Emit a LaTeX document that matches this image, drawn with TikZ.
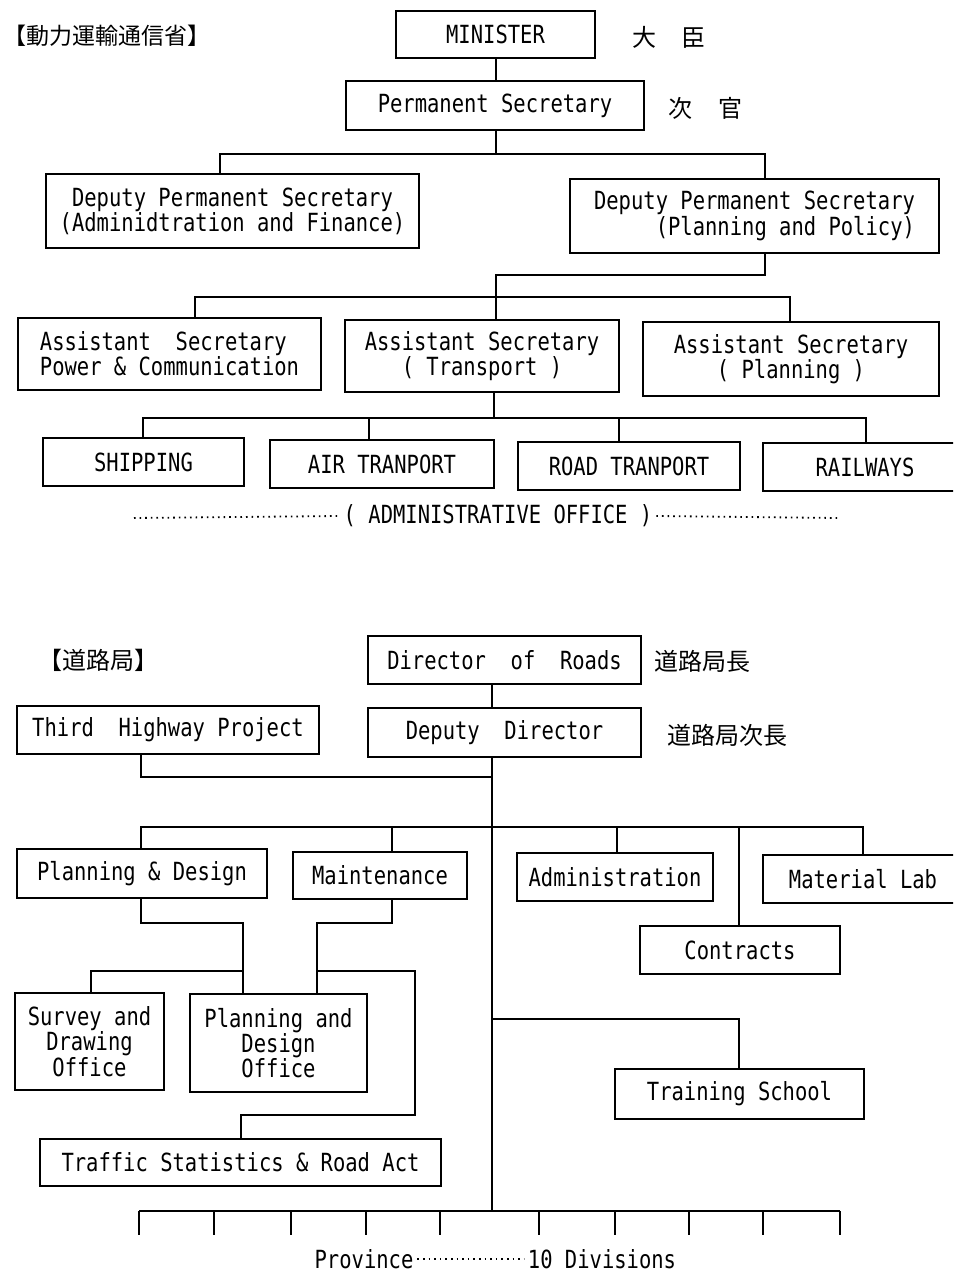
\documentclass[tikz,border=0pt]{standalone}
\usepackage{fontspec}
\newfontfamily\boxfont[FakeStretch=0.82]{DejaVu Sans Mono}
\newfontfamily\jpfont{Noto Sans CJK JP}
\usepackage{tikz}
\usetikzlibrary{positioning}

\begin{document}
\begin{tikzpicture}[x=1pt, y=-1pt, line width=1.5pt,
	box/.style 2 args={draw, minimum width=#1pt, minimum height=#2pt, inner sep=0pt,
		align=center, font=\boxfont\fontsize{25}{24}\selectfont},
	lbl/.style={font=\boxfont\fontsize{25}{24}\selectfont},
	jp/.style={anchor=west, inner sep=0pt, font=\jpfont\fontsize{24}{28}\selectfont},
	leader/.style={line width=1.8pt, dash pattern=on 1.6pt off 4pt}]

		\useasboundingbox (0,0) rectangle (953,1273);
		\clip (0,0) rectangle (953,1273);

		% Ministry chart
		\node[jp, font=\jpfont\fontsize{23}{26}\selectfont] (title1) at (3,36) {【動力運輸通信省】};

		\node[box={199}{47}] (minister) at (495.5,34.5) {MINISTER};
		\node[jp] (daijin) at (632,37) {大\hspace{25pt}臣};
		\node[box={298}{49}] (ps) at (495,105.5) {Permanent Secretary};
		\node[jp] (jikan) at (668,108) {次\hspace{26pt}官};

		\node[box={373}{74}] (dpsA) at (232.5,211) {Deputy Permanent Secretary\\(Adminidtration and Finance)};
		\node[box={369}{74}, align=right] (dpsB) at (754.5,216) {Deputy Permanent Secretary\\(Planning and Policy)};

		\node[box={303}{72}, align=left] (asA) at (169.5,354) {Assistant~~Secretary\\Power \& Communication};
		\node[box={274}{72}] (asB) at (482,356) {Assistant Secretary\\( Transport )};
		\node[box={296}{74}] (asC) at (791,359) {Assistant Secretary\\( Planning )};

		\node[box={201}{48}] (ship) at (143.5,462) {SHIPPING};
		\node[box={224}{48}] (air) at (382,464) {AIR TRANPORT};
		\node[box={222}{48}] (road) at (629,466) {ROAD TRANPORT};
		\node[box={204}{48}] (rail) at (865,467) {RAILWAYS};

		\node[lbl] (admoff) at (498,516) {( ADMINISTRATIVE OFFICE )};
		\coordinate (dotL) at (134,518);
		\coordinate (dotR) at (839,518);
		\draw[leader] (dotL) -- (admoff.west);
		\draw[leader] (admoff.east) -- (dotR);

		% Ministry connectors
		\coordinate (t1) at (496,154);
		\coordinate (t2) at (496,275);
		\coordinate (t3) at (496,297);
		\coordinate (t4) at (494,418);

		\draw (minister.south -| t1) -- (ps.north -| t1);
		\draw (ps.south -| t1) -- (t1);
		\draw (dpsA.north -| 220,0) |- (t1) -| (dpsB.north -| 765,0);
		\draw (dpsB.south -| 765,0) |- (t2) -- (asB.north -| t2);
		\draw (asA.north -| 195,0) |- (t3) -| (asC.north -| 790,0);
		\draw (asB.south -| t4) -- (t4);
		\draw (ship.north -| 143,0) |- (t4) -| (rail.north -| 866,0);
		\draw (air.north -| 369,0) -- (t4 -| 369,0);
		\draw (road.north -| 619,0) -- (t4 -| 619,0);

		% Roads department chart
		\node[jp] (title2) at (38,660) {【道路局】};

		\node[box={273}{48}] (dir) at (504.5,660) {Director~~of~~Roads};
		\node[jp] (jpDir) at (654,661) {道路局長};
		\node[box={273}{49}] (dd) at (504.5,732.5) {Deputy~~Director};
		\node[jp] (jpDd) at (667,735) {道路局次長};
		\node[box={302}{48}] (thp) at (168,730) {Third~~Highway Project};

		\node[box={250}{49}] (pd) at (142,873.5) {Planning \& Design};
		\node[box={174}{47}] (mnt) at (380,875.5) {Maintenance};
		\node[box={196}{48}] (adm) at (615,877) {Administration};
		\node[box={200}{48}] (mat) at (863,879) {Material Lab};
		\node[box={200}{48}] (con) at (740,950) {Contracts};

		\node[box={149}{97}] (srv) at (89.5,1041.5) {Survey and\\Drawing\\Office};
		\node[box={177}{98}] (pdo) at (278.5,1043) {Planning and\\Design\\Office};
		\node[box={401}{47}] (trf) at (240.5,1162.5) {Traffic Statistics \& Road Act};
		\node[box={249}{50}] (trn) at (739.5,1094) {Training School};

		% Roads department connectors
		\coordinate (b0) at (492,777);
		\coordinate (b1) at (492,827);
		\coordinate (b2) at (492,1019);
		\coordinate (b3) at (492,1211);

		\draw (dir.south -| b0) -- (dd.north -| b0);
		\draw (dd.south -| b0) -- (b3);
		\draw (thp.south -| 141,0) |- (b0);
		\draw (pd.north -| 141,0) |- (b1) -| (mat.north -| 863,0);
		\draw (mnt.north -| 392,0) -- (b1 -| 392,0);
		\draw (adm.north -| 617,0) -- (b1 -| 617,0);
		\draw (con.north -| 739,0) -- (b1 -| 739,0);
		\draw (b2) -| (trn.north -| 739,0);

		\coordinate (p1) at (243,923);
		\coordinate (p2) at (243,971);
		\draw (pd.south -| 141,0) |- (p1) -- (pdo.north -| p1);
		\draw (srv.north -| 91,0) |- (p2);

		\coordinate (m1) at (317,923);
		\coordinate (m2) at (317,971);
		\coordinate (m3) at (415,1115);
		\draw (mnt.south -| 392,0) |- (m1) -- (pdo.north -| m1);
		\draw (m2) -| (m3) -| (trf.north -| 241,0);

		% Divisions
		\draw (b3 -| 139,0) -- (b3 -| 840,0);
		\foreach \x in {139,214,291,366,440,539,615,689,763,840}
			\draw (\x,1211) -- ++(0,24);

		\node[lbl] (prov) at (364,1259) {Province};
		\node[lbl] (div) at (602,1259) {10 Divisions};
		\draw[leader] (prov.east) -- (div.west);

	\end{tikzpicture}
\end{document}
